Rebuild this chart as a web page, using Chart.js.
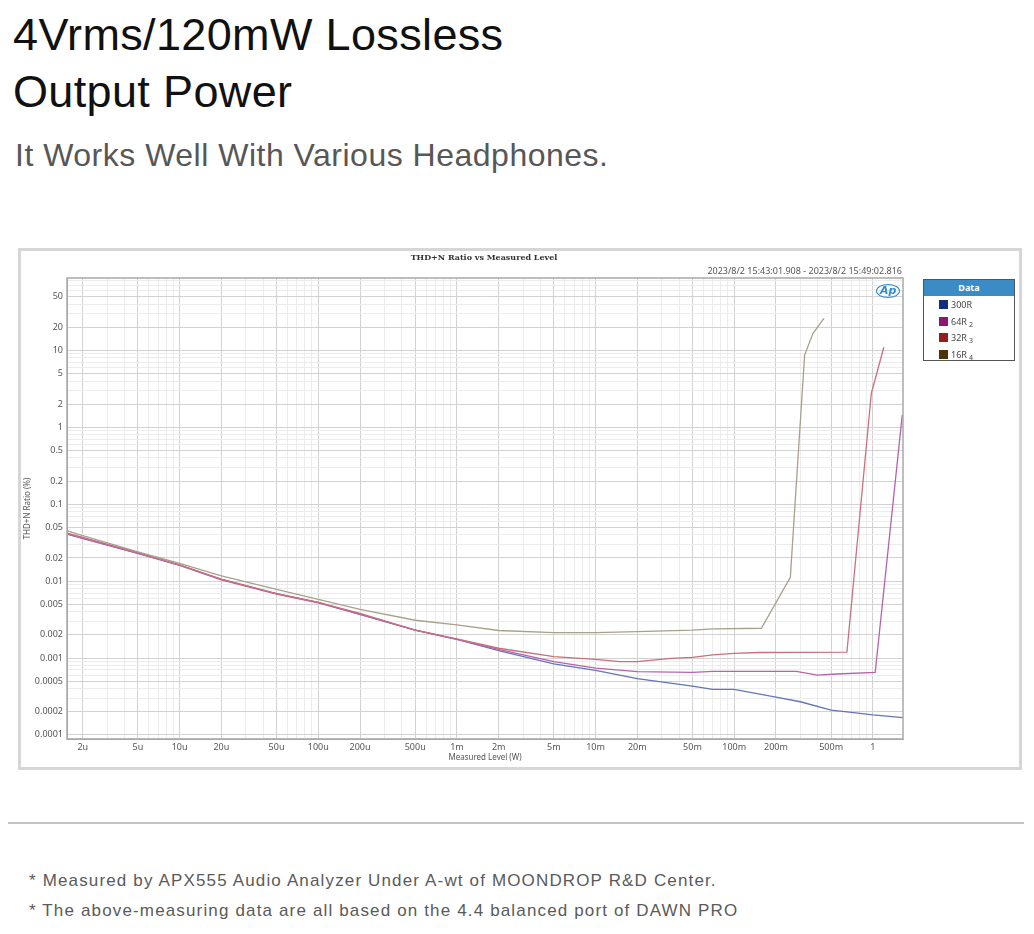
<!DOCTYPE html>
<html>
<head>
<meta charset="utf-8">
<script src="https://cdn.jsdelivr.net/npm/chart.js@4/dist/chart.umd.min.js"></script>
<style>
  html, body { margin: 0; padding: 0; background: #fff; }
  body { width: 1034px; height: 934px; position: relative; overflow: hidden; font-family: "Liberation Sans", Arial, sans-serif; }
  .abs { position: absolute; white-space: nowrap; }
  #h1 { left: 13px; top: 6px; font-size: 45px; line-height: 57px; color: #111; letter-spacing: 0.35px; }
  #sub { left: 15px; top: 136px; font-size: 32px; line-height: 38px; color: #575757; letter-spacing: 0.5px; }
  #frame { left: 18px; top: 248px; width: 1004px; height: 522px; box-sizing: border-box; border: 3px solid #d6d6d6; background: #fff; }
  #chartWrap { left: 21px; top: 251px; width: 996px; height: 514px; }
  #ctitle { left: 384px; width: 200px; text-align: center; top: 252px; font: bold 8px "DejaVu Serif", serif; color: #333; }
  #stamp { right: 132px; top: 264px; font: 9px "Noto Sans", sans-serif; color: #555; }
  #ap { left: 876px; top: 284px; font: italic bold 11px "DejaVu Sans", sans-serif; color: #2f8ad0; border: 1px solid #2f8ad0; border-radius: 50%; padding: 0 3px; line-height: 12px; }
  #legend { left: 923px; top: 279px; width: 92px; height: 82px; box-sizing: border-box; border: 1px solid #555; background: #fff; }
  #legend .head { height: 16px; background: #3b8bc4; color: #fff; font: bold 9px "Noto Sans", sans-serif; text-align: center; line-height: 16px; }
  #legend .item { position: absolute; left: 15px; font: 9px "Noto Sans", sans-serif; color: #444; line-height: 10px; }
  #legend .sw { display: inline-block; width: 9px; height: 9px; vertical-align: -1px; margin-right: 3px; }
  #legend sub { font-size: 7px; vertical-align: -2px; margin-left: 2px; }
  #rule { left: 8px; top: 822px; width: 1016px; height: 0; border-top: 2px solid #c4c4c4; }
  .note { left: 29px; font: 17px "Liberation Sans", sans-serif; color: #5a5a5a; letter-spacing: 1.15px; }
</style>
</head>
<body>
<div id="h1" class="abs">4Vrms/120mW Lossless<br>Output Power</div>
<div id="sub" class="abs">It Works Well With Various Headphones.</div>

<div id="frame" class="abs"></div>
<div id="chartWrap" class="abs"><canvas id="thdChart"></canvas></div>
<div id="ctitle" class="abs">THD+N Ratio vs Measured Level</div>
<div id="stamp" class="abs">2023/8/2 15:43:01.908 - 2023/8/2 15:49:02.816</div>
<div id="ap" class="abs">Ap</div>
<div id="legend" class="abs"><div class="head">Data</div></div>

<div id="rule" class="abs"></div>
<div class="abs note" style="top:871px">* Measured by APX555 Audio Analyzer Under A-wt of MOONDROP R&amp;D Center.</div>
<div class="abs note" style="top:901px">* The above-measuring data are all based on the 4.4 balanced port of DAWN PRO</div>

<script>
// measured level (W) and THD+N (%)
const level300R = [1.55e-6, 2e-6, 5e-6, 1e-5, 2e-5, 5e-5, 1e-4, 2e-4, 5e-4, 1e-3, 2e-3, 5e-3, 1e-2, 2e-2, 5e-2, 7e-2, 0.1, 0.2, 0.3, 0.5, 0.65, 1.0, 1.65];
const thd300R   = [0.041, 0.036, 0.023, 0.0161, 0.0105, 0.0069, 0.0053, 0.0037, 0.0023, 0.00175, 0.00125, 0.00084, 0.00069, 0.00054, 0.00043, 0.00039, 0.00039, 0.00031, 0.00027, 0.00021, 0.0002, 0.000182, 0.000168];

const level64R = [1.55e-6, 2e-6, 5e-6, 1e-5, 2e-5, 5e-5, 1e-4, 2e-4, 5e-4, 1e-3, 2e-3, 5e-3, 1e-2, 2e-2, 5e-2, 7e-2, 0.1, 0.2, 0.28, 0.4, 0.55, 1.04, 1.63];
const thd64R   = [0.041, 0.036, 0.023, 0.016, 0.0104, 0.0068, 0.0052, 0.0037, 0.0023, 0.00175, 0.0013, 0.0009, 0.00074, 0.000665, 0.00065, 0.00067, 0.00067, 0.00067, 0.00067, 0.0006, 0.00062, 0.00065, 1.45];

const level32R = [1.55e-6, 2e-6, 5e-6, 1e-5, 2e-5, 5e-5, 1e-4, 2e-4, 5e-4, 1e-3, 2e-3, 5e-3, 1e-2, 1.5e-2, 2e-2, 3.5e-2, 5e-2, 7e-2, 0.1, 0.15, 0.65, 0.975, 1.2];
const thd32R   = [0.042, 0.037, 0.0235, 0.0163, 0.0106, 0.0069, 0.0053, 0.0038, 0.0023, 0.00178, 0.00134, 0.00104, 0.00096, 0.0009, 0.0009, 0.00099, 0.00102, 0.0011, 0.00115, 0.00118, 0.00119, 2.77, 11.0];

const level16R = [1.55e-6, 2e-6, 5e-6, 1e-5, 2e-5, 5e-5, 1e-4, 2e-4, 5e-4, 1e-3, 2e-3, 5e-3, 1e-2, 2e-2, 5e-2, 7e-2, 0.157, 0.254, 0.322, 0.37, 0.444];
const thd16R   = [0.045, 0.039, 0.024, 0.017, 0.0117, 0.0078, 0.0058, 0.0043, 0.0031, 0.0027, 0.00228, 0.00214, 0.00214, 0.0022, 0.0023, 0.0024, 0.00244, 0.0112, 8.7, 16.7, 26.2];

const seriesNames  = ['300R', '64R', '32R', '16R'];
const seriesSubs   = ['', '2', '3', '4'];
const lineColors   = ['#6474b8', '#b464aa', '#c8707c', '#a8a08a'];
const swatchColors = ['#10307e', '#8c1670', '#981c1c', '#4a3408'];

const xTickValues = [2e-6, 5e-6, 1e-5, 2e-5, 5e-5, 1e-4, 2e-4, 5e-4, 1e-3, 2e-3, 5e-3, 1e-2, 2e-2, 5e-2, 0.1, 0.2, 0.5, 1];
const xTickLabels = ['2u', '5u', '10u', '20u', '50u', '100u', '200u', '500u', '1m', '2m', '5m', '10m', '20m', '50m', '100m', '200m', '500m', '1'];
const yTickValues = [50, 20, 10, 5, 2, 1, 0.5, 0.2, 0.1, 0.05, 0.02, 0.01, 0.005, 0.002, 0.001, 0.0005, 0.0002, 0.0001];
const yTickLabels = ['50', '20', '10', '5', '2', '1', '0.5', '0.2', '0.1', '0.05', '0.02', '0.01', '0.005', '0.002', '0.001', '0.0005', '0.0002', '0.0001'];

const xMin = 1.54e-6, xMax = 1.65;
const yMin = 0.0000885, yMax = 87.5;

const levels = [level300R, level64R, level32R, level16R];
const thds = [thd300R, thd64R, thd32R, thd16R];

// html legend
const legendEl = document.getElementById('legend');
seriesNames.forEach((name, i) => {
    const it = document.createElement('div');
    it.className = 'item';
    it.style.top = (20 + i * 16.5) + 'px';
    it.innerHTML = '<span class="sw" style="background:' + swatchColors[i] + '"></span>' + name +
        (seriesSubs[i] ? '<sub>' + seriesSubs[i] + '</sub>' : '');
    legendEl.appendChild(it);
});

function logTicks(min, max) {
    const out = [];
    for (let e = -7; e <= 2; e++) {
        for (let d = 1; d <= 9; d++) {
            const v = d * Math.pow(10, e);
            if (v >= min && v <= max) out.push({ value: v });
        }
    }
    return out;
}
function findLabel(v, values, labels) {
    for (let i = 0; i < values.length; i++) {
        if (Math.abs(Math.log10(v) - Math.log10(values[i])) < 1e-6) return labels[i];
    }
    return '';
}
function isMain(v) {
    const d = Math.round(v / Math.pow(10, Math.floor(Math.log10(v) + 1e-9)));
    return d === 1 || d === 2 || d === 5;
}

const frameBorder = {
    id: 'frameBorder',
    afterDraw(chart) {
        const a = chart.chartArea, c = chart.ctx;
        c.save();
        c.strokeStyle = '#a8a8a8';
        c.lineWidth = 1.5;
        c.strokeRect(a.left, a.top, a.right - a.left, a.bottom - a.top);
        c.restore();
    }
};

const datasets = seriesNames.map((name, i) => ({
    label: name,
    data: levels[i].map((x, j) => ({ x: x, y: thds[i][j] })),
    borderColor: lineColors[i],
    borderWidth: 1.3,
    pointRadius: 0,
    fill: false,
    tension: 0
})).reverse();

const ctx = document.getElementById('thdChart');
const thdChart = new Chart(ctx, {
    type: 'line',
    data: { datasets: datasets },
    options: {
        responsive: true,
        maintainAspectRatio: false,
        animation: false,
        layout: { padding: { top: 27, right: 114, left: 0, bottom: 0 } },
        plugins: { legend: { display: false }, tooltip: { enabled: false } },
        scales: {
            x: {
                type: 'logarithmic',
                min: xMin, max: xMax,
                afterBuildTicks: s => { s.ticks = logTicks(xMin, xMax); },
                afterFit: s => { s.height = 26; },
                ticks: {
                    autoSkip: false, maxRotation: 0, padding: 3,
                    font: { family: 'Noto Sans', size: 9 }, color: '#555',
                    callback: v => findLabel(v, xTickValues, xTickLabels)
                },
                grid: {
                    drawTicks: false,
                    color: c => isMain(c.tick.value) ? '#d2d2d2' : '#ececec'
                },
                border: { color: '#a8a8a8' },
                title: {
                    display: true, text: 'Measured Level (W)',
                    font: { family: 'Noto Sans', size: 8 }, color: '#555',
                    padding: { top: 0, bottom: 2 }
                }
            },
            y: {
                type: 'logarithmic',
                min: yMin, max: yMax,
                afterBuildTicks: s => { s.ticks = logTicks(yMin, yMax); },
                afterFit: s => { s.width = 46; },
                ticks: {
                    autoSkip: false, padding: 4,
                    font: { family: 'Noto Sans', size: 9 }, color: '#555',
                    callback: v => findLabel(v, yTickValues, yTickLabels)
                },
                grid: {
                    drawTicks: false,
                    color: c => isMain(c.tick.value) ? '#d2d2d2' : '#ececec'
                },
                border: { color: '#a8a8a8' },
                title: {
                    display: true, text: 'THD+N Ratio (%)',
                    font: { family: 'Noto Sans', size: 8 }, color: '#555',
                    padding: { top: 2, bottom: 0 }
                }
            }
        }
    },
    plugins: [frameBorder]
});
</script>
</body>
</html>
